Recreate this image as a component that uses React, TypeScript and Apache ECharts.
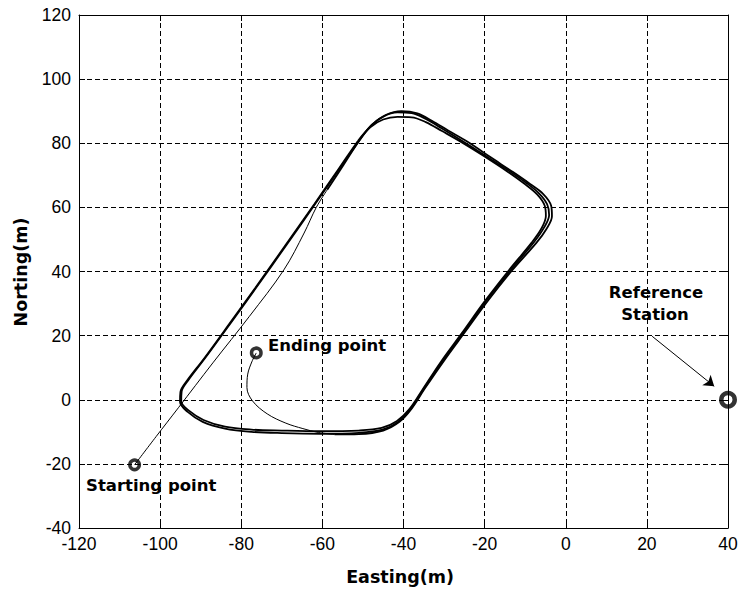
import React, { useEffect, useRef } from "react";
import * as echarts from "echarts";

type Pt = [number, number];

// Vehicle track (Easting, Northing in metres)
const startLeg: Pt[] = [
  [-106.3, -20.3], [-101, -11.5], [-95.5, -2.5], [-87, 11.5], [-78, 26],
  [-69.5, 40.5], [-64.5, 52], [-61.5, 60], [-58.8, 65.5],
];

const lap1: Pt[] = [
  [-58.8, 65.5], [-54.8, 73.2], [-51, 80.6], [-48, 85.4], [-45, 88.3], [-41.5, 89.6],
  [-38, 89.4], [-34.5, 87.6], [-30.5, 84.6], [-25.5, 80.7], [-20.4, 76.6], [-14.5, 71.8],
  [-9.8, 67.7], [-6.6, 64.4], [-4.6, 61], [-4.1, 57.6], [-5.4, 53.6], [-7.8, 49.2],
  [-13.6, 40.4], [-19.4, 31.2], [-25.2, 21], [-30.4, 12], [-35.1, 3.2], [-38.3, -3],
  [-41.3, -6.9], [-45.2, -9.3], [-51, -10.3], [-60.5, -10.6], [-70, -10.4], [-77.5, -10],
  [-84, -9], [-89.5, -6.9], [-93.2, -3.8], [-95.1, -0.6], [-95, 2.4], [-93.4, 5.9],
  [-89.2, 12.8], [-83.2, 23.2], [-76.6, 34.8], [-69.2, 48], [-62, 61], [-56, 72], [-51.2, 80.8],
];

const lap2: Pt[] = [
  [-51.2, 80.8], [-48.2, 85], [-45, 87.4], [-41.5, 88.2], [-38, 88.1], [-34.5, 86.6],
  [-30.5, 83.8], [-25.5, 80.2], [-20.4, 76.2], [-14.5, 71.3], [-10, 67.2], [-7, 64],
  [-5.2, 60.6], [-4.9, 57.3], [-6, 53.4], [-8.4, 49], [-14, 40.4], [-19.8, 31],
  [-25.6, 20.8], [-30.8, 11.8], [-35.4, 3], [-38.6, -3], [-41.6, -6.6], [-45.4, -8.8],
  [-51, -9.6], [-60.5, -9.8], [-70, -9.6], [-77.5, -9.3], [-84, -8.4], [-89.3, -6.3],
  [-92.9, -3.4], [-94.8, -0.5], [-94.7, 2.5], [-93.1, 6], [-88.9, 13], [-82.9, 23.4],
  [-76.3, 35], [-68.9, 48.2], [-61.7, 61.2], [-55.7, 72.2], [-50.9, 80.9],
];

const lap3: Pt[] = [
  [-50.9, 80.9], [-47.8, 85.8], [-44.4, 88.8], [-40.5, 90], [-36.6, 89.3], [-33, 87],
  [-29, 84], [-24, 80.3], [-18.5, 75.6], [-13, 71], [-8.8, 67.3], [-5.6, 64.2],
  [-3.6, 60.5], [-3.4, 57.2], [-4.8, 53.2], [-7.2, 49], [-13.2, 40.4], [-19, 31.2],
  [-24.8, 21.2], [-30, 12.2], [-34.8, 3.4], [-38, -2.8], [-41, -6.9], [-45, -9.6],
  [-51, -10.7], [-57, -10.8],
];

const endLeg: Pt[] = [
  [-57, -10.8], [-61, -10.2], [-64.8, -9], [-69, -7.3], [-73.6, -4.4], [-77.2, -0.4],
  [-78.6, 3.8], [-78.4, 8], [-77.4, 11.8], [-76.3, 14.6],
];

const startPoint: Pt = [-106.3, -20.3];
const endPoint: Pt = [-76.3, 14.6];
const referenceStation: Pt = [40, 0];
const arrowFrom: Pt = [21.3, 19.8];
const arrowTo: Pt = [36.6, 4.2];

const xRange = { min: -120, max: 40, step: 20 };
const yRange = { min: -40, max: 120, step: 20 };

const tickFont = { fontFamily: "'Liberation Sans', Arial, sans-serif", fontSize: 17.5, color: "#000" };
const boldFont = "'DejaVu Sans', sans-serif";

export default function App() {
  const ref = useRef<HTMLDivElement>(null);

  useEffect(() => {
    if (!ref.current) return;
    const chart = echarts.init(ref.current, undefined, { renderer: "svg" });

    const axisLine = { show: true, onZero: false, lineStyle: { color: "#000", width: 1 } };
    const tick = { show: true, inside: true, length: 6, lineStyle: { color: "#000" } };
    const grid = { show: true, lineStyle: { color: "#000", width: 1, type: [5, 3] as number[] } };

    const trackLine = (name: string, data: Pt[], width: number) => ({
      name,
      type: "line",
      data,
      smooth: 0.35,
      showSymbol: false,
      symbol: "none",
      lineStyle: { color: "#000", width },
      silent: true,
      z: 3,
    });

    chart.setOption({
      animation: false,
      backgroundColor: "#fff",
      grid: { left: 79, top: 15, width: 649, height: 513 },
      xAxis: [
        {
          type: "value", min: xRange.min, max: xRange.max, interval: xRange.step,
          position: "bottom", axisLine, axisTick: tick, splitLine: grid,
          axisLabel: { ...tickFont, margin: 7 },
        },
        {
          type: "value", min: xRange.min, max: xRange.max, interval: xRange.step,
          position: "top", axisLine, axisTick: tick, splitLine: { show: false },
          axisLabel: { show: false },
        },
      ],
      yAxis: [
        {
          type: "value", min: yRange.min, max: yRange.max, interval: yRange.step,
          position: "left", axisLine, axisTick: tick, splitLine: grid,
          axisLabel: { ...tickFont, margin: 8 },
        },
        {
          type: "value", min: yRange.min, max: yRange.max, interval: yRange.step,
          position: "right", axisLine, axisTick: tick, splitLine: { show: false },
          axisLabel: { show: false },
        },
      ],
      series: [
        trackLine("start", startLeg, 1),
        trackLine("lap1", lap1, 1.8),
        trackLine("lap2", lap2, 1.8),
        trackLine("lap3", lap3, 1.8),
        trackLine("end", endLeg, 1),
        {
          type: "scatter",
          data: [startPoint, endPoint],
          symbol: "circle",
          symbolSize: 9.5,
          itemStyle: { color: "rgba(0,0,0,0)", borderColor: "#000", borderWidth: 3.5 },
          z: 4,
          silent: true,
        },
        {
          type: "scatter",
          data: [referenceStation],
          symbol: "circle",
          symbolSize: 13.5,
          clip: false,
          itemStyle: { color: "rgba(0,0,0,0)", borderColor: "#000", borderWidth: 4.5 },
          z: 4,
          silent: true,
          markLine: {
            silent: true,
            symbol: ["none", "arrow"],
            symbolSize: 10,
            label: { show: false },
            lineStyle: { color: "#000", width: 1, type: "solid" },
            data: [[{ coord: arrowFrom }, { coord: arrowTo }]],
          },
        },
      ],
      graphic: [
        {
          type: "text", x: 400, y: 577,
          style: { text: "Easting(m)", font: `bold 17.5px ${boldFont}`, fill: "#000", align: "center", verticalAlign: "middle" },
        },
        {
          type: "text", x: 21, y: 272, rotation: Math.PI / 2,
          style: { text: "Norting(m)", font: `bold 17.5px ${boldFont}`, fill: "#000", align: "center", verticalAlign: "middle" },
        },
        {
          type: "text", x: 86, y: 485,
          style: { text: "Starting point", font: `bold 16.5px ${boldFont}`, fill: "#000", align: "left", verticalAlign: "middle" },
        },
        {
          type: "text", x: 268, y: 345,
          style: { text: "Ending point", font: `bold 16.5px ${boldFont}`, fill: "#000", align: "left", verticalAlign: "middle" },
        },
        {
          type: "text", x: 656, y: 292,
          style: { text: "Reference", font: `bold 16.5px ${boldFont}`, fill: "#000", align: "center", verticalAlign: "middle" },
        },
        {
          type: "text", x: 655, y: 314,
          style: { text: "Station", font: `bold 16.5px ${boldFont}`, fill: "#000", align: "center", verticalAlign: "middle" },
        },
      ],
    });

    return () => chart.dispose();
  }, []);

  return <div ref={ref} style={{ width: 741, height: 590, position: "absolute", left: 0, top: 0 }} />;
}
